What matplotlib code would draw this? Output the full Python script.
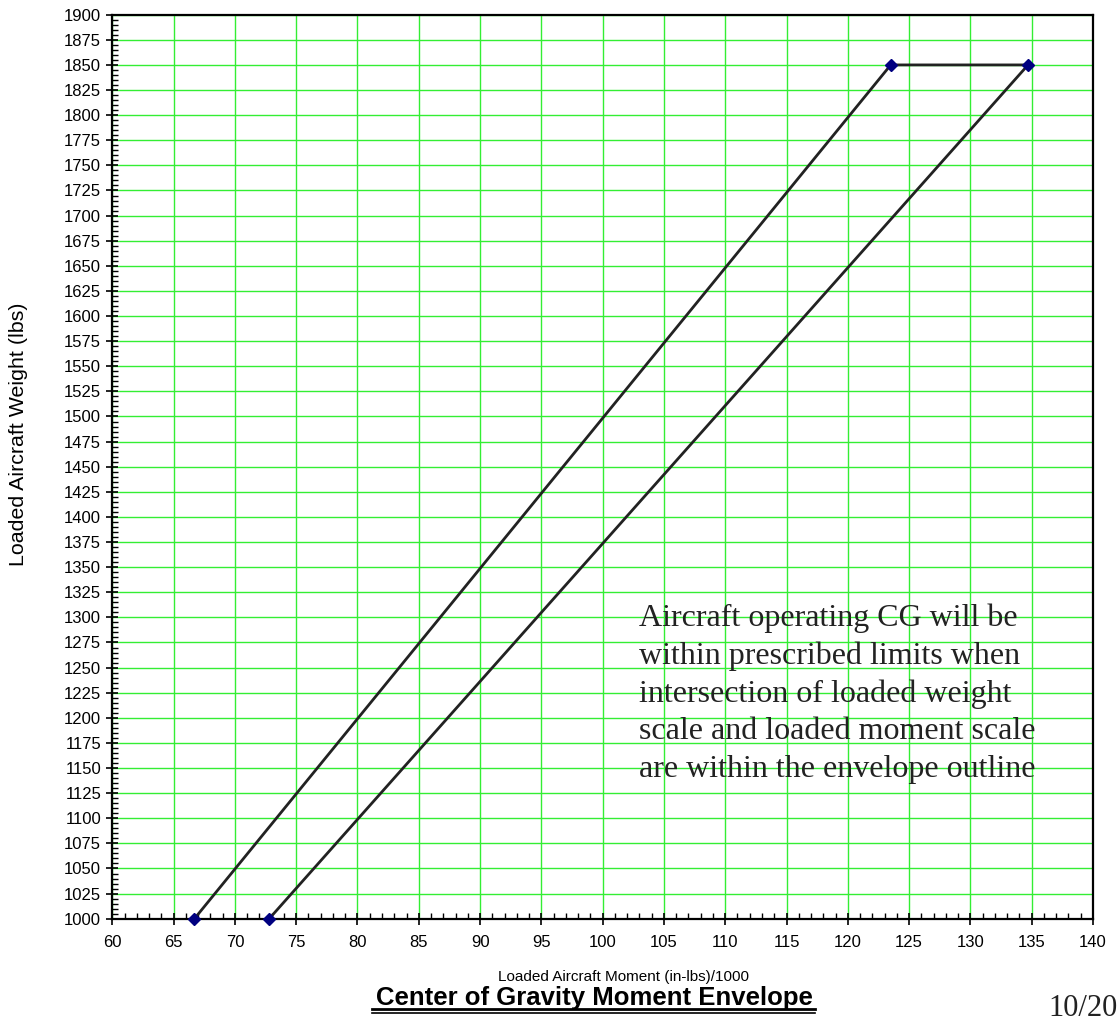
import matplotlib
matplotlib.use("Agg")
import matplotlib.pyplot as plt
from matplotlib.ticker import MultipleLocator

# envelope corner points (moment /1000, weight lbs)
moment = [66.7, 123.5, 134.7, 72.8]
weight = [1000, 1850, 1850, 1000]

x_ticks = list(range(60, 145, 5))
y_ticks = list(range(1000, 1925, 25))

note = ("Aircraft operating CG will be\n"
        "within prescribed limits when\n"
        "intersection of loaded weight\n"
        "scale and loaded moment scale\n"
        "are within the envelope outline")

W, H = 1117, 1029
fig = plt.figure(figsize=(W / 100, H / 100), dpi=100)
ax = fig.add_axes([112.3 / W, 1 - 918.7 / H, (1093 - 112.3) / W, (918.7 - 14.7) / H])

ax.plot(moment, weight, color="#222222", lw=2, zorder=3)
ax.plot(moment, weight, ls="none", marker="D", ms=6, color="#000080",
        zorder=4, clip_on=False)

ax.set_xlim(60, 140)
ax.set_ylim(1000, 1900)
ax.set_xticks(x_ticks)
ax.set_yticks(y_ticks)
ax.xaxis.set_minor_locator(MultipleLocator(1))
ax.yaxis.set_minor_locator(MultipleLocator(5))
ax.tick_params(which="major", direction="inout", length=8, width=1.2,
               labelsize=12, pad=4, colors="black")
ax.tick_params(which="minor", direction="in", length=4, width=1, colors="black")
ax.tick_params(axis="x", which="major", pad=8)
for lbl in ax.get_xticklabels() + ax.get_yticklabels():
    lbl.set_fontfamily("Liberation Sans")

ax.grid(True, which="major", color="#33ee33", lw=1)
ax.set_axisbelow(True)
for s in ax.spines.values():
    s.set_color("black")
    s.set_linewidth(1.6)

ax.text(103.0, 1314, note, family="Liberation Serif", fontsize=23,
        color="#222222", va="top", ha="left", linespacing=1.38, zorder=5)

fig.text(624 / W, 1 - 977 / H, "Loaded Aircraft Moment (in-lbs)/1000",
         family="Liberation Sans", fontsize=11, ha="center", va="center")
fig.text(19 / W, 1 - 434 / H, "Loaded Aircraft Weight (lbs)",
         family="Liberation Sans", fontsize=15.4, rotation=90,
         ha="center", va="center")
fig.text(594 / W, 1 - 1005 / H, "Center of Gravity Moment Envelope",
         family="Liberation Sans", fontsize=18.5, fontweight="bold",
         ha="center", va="baseline")
# double underline under the title
fig.add_artist(plt.Line2D([372 / W, 815 / W], [1 - 1008.5 / H] * 2, color="black", lw=2))
fig.add_artist(plt.Line2D([372 / W, 815 / W], [1 - 1012.5 / H] * 2, color="black", lw=1.2))
fig.text(1048 / W, 1 - 1008 / H, "10/20", family="Liberation Serif",
         fontsize=22, ha="left", va="center", color="#222222")

fig.savefig("out.png", dpi=100)
